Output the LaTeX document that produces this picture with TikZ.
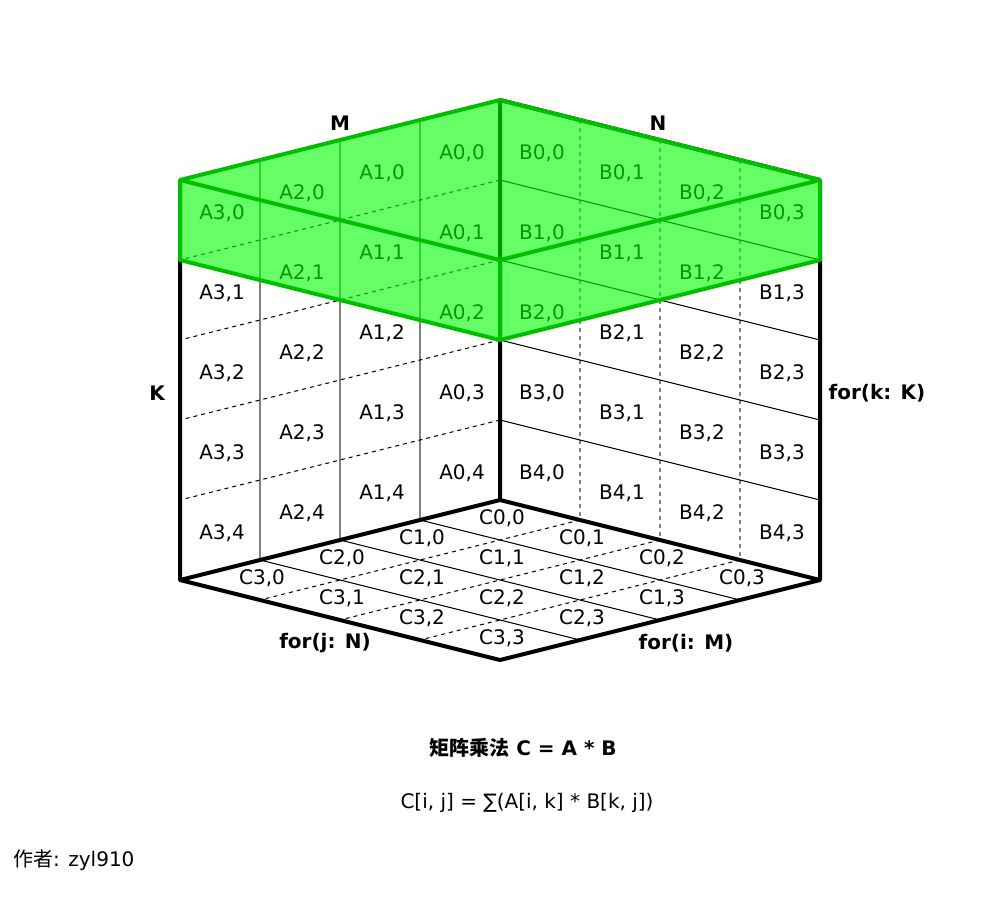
\documentclass[tikz,border=0pt]{standalone}
\usepackage{fontspec}
\setmainfont{DejaVu Sans}
\newfontfamily\cjk{Noto Sans CJK SC}
\usepackage{tikz}
\usetikzlibrary{calc}
\definecolor{slabfill}{RGB}{0,255,0}
\definecolor{slabline}{RGB}{0,190,0}
\definecolor{gridgray}{RGB}{128,128,128}

\begin{document}
\begin{tikzpicture}
	[x=1pt,y=-1pt,
	every node/.style={font=\fontsize{20}{24}\selectfont,inner sep=0pt},
	heading/.style={font=\fontsize{20}{24}\selectfont\bfseries},
	edge/.style={line width=4pt,line join=round},
	thinline/.style={line width=1pt},
	grayline/.style={line width=1.5pt,draw=gridgray},
	dashline/.style={line width=1pt,dash pattern=on 4pt off 4pt},
	slab/.style={fill=slabfill,fill opacity=0.6,draw=slabline,line width=4pt,line join=round}]
	\useasboundingbox (0,0) rectangle (1000,900);
	% corners of the cube
	\coordinate (T) at (500,100);
	\coordinate (L) at (180,180);
	\coordinate (R) at (820,180);
	\coordinate (F) at (500,260);
	\coordinate (O) at (500,500);
	\coordinate (LB) at (180,580);
	\coordinate (RB) at (820,580);
	\coordinate (FB) at (500,660);
	\coordinate (L2) at (180,260);
	\coordinate (R2) at (820,260);
	\coordinate (F2) at (500,340);
	% A face
	\foreach \i in {1,2,3} \draw[grayline] ($(T)!\i/4!(L)$) -- ($(O)!\i/4!(LB)$);
	\foreach \k in {1,...,4} \draw[dashline] ($(T)!\k/5!(O)$) -- ($(L)!\k/5!(LB)$);
	% B face
	\foreach \i in {1,2,3} \draw[grayline,dash pattern=on 4pt off 4pt] ($(T)!\i/4!(R)$) -- ($(O)!\i/4!(RB)$);
	\foreach \k in {1,...,4} \draw[thinline] ($(T)!\k/5!(O)$) -- ($(R)!\k/5!(RB)$);
	% C face
	\foreach \i in {1,2,3} \draw[thinline] ($(O)!\i/4!(LB)$) -- ($(RB)!\i/4!(FB)$);
	\foreach \j in {1,2,3} \draw[dashline] ($(O)!\j/4!(RB)$) -- ($(LB)!\j/4!(FB)$);
	% outline
	\draw[edge] (L) -- (LB) (R) -- (RB) (T) -- (O) (T) -- (R);
	\draw[edge] (O) -- (LB) -- (FB) -- (RB) -- cycle;
	% cells
	\foreach \m in {0,...,3} \foreach \k in {0,...,4}
		\node (a\m\k) at ({462-80*\m},{153+20*\m+80*\k}) {A\m,\k};
	\foreach \n in {0,...,3} \foreach \k in {0,...,4}
		\node (b\k\n) at ({542+80*\n},{153+20*\n+80*\k}) {B\k,\n};
	\foreach \i in {0,...,3} \foreach \j in {0,...,3}
		\node (c\i\j) at ({502+80*\j-80*\i},{518+20*\i+20*\j}) {C\i,\j};
	% axis labels
	\node[heading] (M) at (340,123) {M};
	\node[heading] (N) at (658,123) {N};
	\node[heading] (K) at (157,393) {K};
	\node[heading] (fork) at (877,393) {for(k: K)};
	\node[heading] (forj) at (325,643) {for(j: N)};
	\node[heading] (fori) at (686,643) {for(i: M)};
	% green slab
	\draw[slab] (T) -- (R) -- (R2) -- (F2) -- (L2) -- (L) -- cycle;
	\draw[slab,fill=none] (L) -- (F) -- (R) (F) -- (F2);
	% captions
	\node[heading] (title) at (523,748) {{\cjk 矩阵乘法} C = A * B};
	\node (formula) at (527,803) {C[i, j] = ∑(A[i, k] * B[k, j])};
	\node[anchor=west] (author) at (13,860) {{\cjk 作者}: zyl910};
\end{tikzpicture}
\end{document}
